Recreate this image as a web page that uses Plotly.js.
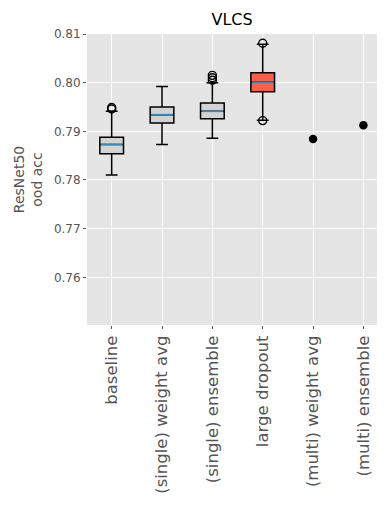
<!DOCTYPE html>
<html>
<head>
<meta charset="utf-8">
<script src="https://cdn.plot.ly/plotly-3.0.1.min.js"></script>
<style>body{margin:0;padding:0;} #chart{width:390px;height:521px;}</style>
</head>
<body>
<div id="chart"></div>
<script>
// methods on the x axis
const methods = ['baseline', '(single) weight avg', '(single) ensemble', 'large dropout',
                 '(multi) weight avg', '(multi) ensemble'];

// box stats for the first four methods
const lowerWhisker = [0.7810, 0.7873, 0.7886, 0.7923];
const q1 = [0.7854, 0.7917, 0.7926, 0.79815];
const median = [0.7873, 0.79343, 0.7941, 0.80006];
const q3 = [0.7888, 0.7950, 0.79581, 0.80205];
const upperWhisker = [0.7941, 0.7992, 0.8000, 0.8079];
const fills = ['#d3d3d3', '#d3d3d3', '#d3d3d3', '#fa5f4a'];

// outliers
const outlierIdx = [0, 0, 2, 2, 2, 3, 3];
const outlierVal = [0.7946, 0.7949, 0.8005, 0.8010, 0.8015, 0.8081, 0.7922];

// single runs
const singleIdx = [4, 5];
const singleVal = [0.78842, 0.79123];

const boxW = 0.47;
const traces = [];

for (let i = 0; i < q1.length; i++) {
  traces.push({
    type: 'box',
    x: [i],
    q1: [q1[i]],
    median: [median[i]],
    q3: [q3[i]],
    lowerfence: [lowerWhisker[i]],
    upperfence: [upperWhisker[i]],
    width: boxW,
    whiskerwidth: 0.5,
    fillcolor: fills[i],
    line: {color: 'black', width: 1.5},
    hoverinfo: 'skip',
    showlegend: false
  });
  // matplotlib draws the median in a different colour
  traces.push({
    type: 'scatter',
    mode: 'lines',
    x: [i - boxW / 2 + 0.02, i + boxW / 2 - 0.02],
    y: [median[i], median[i]],
    line: {color: '#348abd', width: 1.5},
    hoverinfo: 'skip',
    showlegend: false
  });
}

traces.push({
  type: 'scatter',
  mode: 'markers',
  x: outlierIdx,
  y: outlierVal,
  marker: {symbol: 'circle-open', size: 8, color: 'black', line: {width: 1.4}},
  hoverinfo: 'skip',
  showlegend: false
});

traces.push({
  type: 'scatter',
  mode: 'markers',
  x: singleIdx,
  y: singleVal,
  marker: {symbol: 'circle', size: 8.5, color: 'black'},
  hoverinfo: 'skip',
  showlegend: false
});

const layout = {
  width: 390,
  height: 521,
  margin: {l: 87, r: 13, t: 34, b: 196},
  paper_bgcolor: 'white',
  plot_bgcolor: '#e5e5e5',
  font: {family: 'DejaVu Sans', color: '#555555'},
  title: {text: 'VLCS', font: {size: 16, color: 'black'}, x: 0.595, xanchor: 'center', y: 0.962, yanchor: 'middle'},
  xaxis: {
    range: [-0.49, 5.27],
    tickmode: 'array',
    tickvals: methods.map((m, i) => i),
    ticktext: methods,
    tickangle: -90,
    tickfont: {size: 16.5, color: '#555555'},
    ticks: 'outside',
    ticklen: 3,
    tickcolor: '#555555',
    showgrid: true,
    gridcolor: 'white',
    gridwidth: 1,
    zeroline: false
  },
  yaxis: {
    range: [0.7502, 0.8100],
    tickvals: [0.76, 0.77, 0.78, 0.79, 0.80, 0.81],
    tickformat: '.2f',
    tickfont: {size: 12, color: '#555555'},
    ticks: 'outside',
    ticklen: 3,
    tickcolor: '#555555',
    showgrid: true,
    gridcolor: 'white',
    gridwidth: 1,
    zeroline: false,
    title: {text: 'ResNet50<br>ood acc', font: {size: 14, color: '#555555'}, standoff: 7}
  }
};

Plotly.newPlot('chart', traces, layout, {displayModeBar: false, staticPlot: true});
</script>
</body>
</html>
